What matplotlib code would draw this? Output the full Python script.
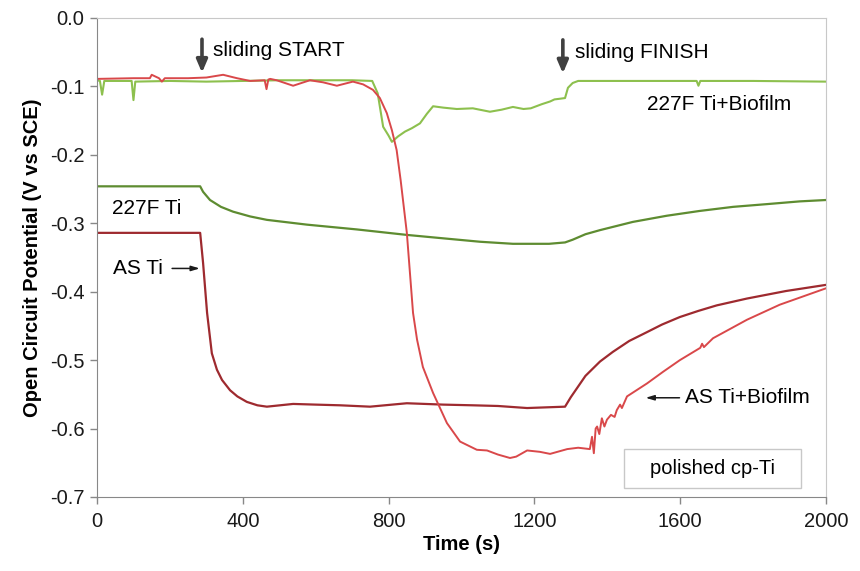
import matplotlib
matplotlib.use("Agg")
import matplotlib.pyplot as plt
from matplotlib.patches import Rectangle
from matplotlib.ticker import FormatStrFormatter

plt.rcParams['font.family'] = ['Liberation Sans', 'DejaVu Sans']
plt.rcParams['axes.unicode_minus'] = False

# 227F Ti+Biofilm (light green)
t_f_bio = [0, 8, 14, 20, 95, 100, 105, 200, 300, 400, 500, 600, 700, 755, 770,
           785, 800, 809, 826, 845, 864, 886, 905, 922, 950, 987, 1031, 1078,
           1110, 1141, 1170, 1190, 1220, 1243, 1255, 1270, 1284, 1292, 1305,
           1320, 1500, 1645, 1650, 1655, 1800, 2000]
v_f_bio = [-0.091, -0.092, -0.112, -0.092, -0.092, -0.120, -0.093, -0.092,
           -0.093, -0.092, -0.091, -0.091, -0.091, -0.092, -0.110, -0.159,
           -0.172, -0.181, -0.173, -0.166, -0.161, -0.154, -0.140, -0.129,
           -0.131, -0.133, -0.132, -0.137, -0.134, -0.130, -0.133, -0.132,
           -0.126, -0.122, -0.119, -0.118, -0.117, -0.102, -0.095, -0.092,
           -0.092, -0.092, -0.099, -0.092, -0.092, -0.093]

# AS Ti+Biofilm (red)
t_as_bio = [0, 100, 145, 150, 170, 178, 186, 250, 300, 346, 384, 420, 460, 465,
            470, 475, 493, 538, 584, 620, 658, 702, 730, 757, 776, 795, 809,
            822, 833, 850, 867, 878, 894, 922, 960, 996, 1042, 1070, 1100, 1133,
            1150, 1180, 1215, 1243, 1290, 1320, 1352, 1358, 1363, 1368, 1372,
            1378, 1385, 1392, 1399, 1410, 1420, 1426, 1435, 1440, 1454, 1509,
            1553, 1599, 1655, 1660, 1665, 1690, 1783, 1873, 2000]
v_as_bio = [-0.089, -0.088, -0.088, -0.083, -0.088, -0.093, -0.088, -0.088,
            -0.087, -0.083, -0.088, -0.092, -0.091, -0.104, -0.090, -0.089,
            -0.091, -0.099, -0.091, -0.094, -0.099, -0.093, -0.097, -0.105,
            -0.117, -0.139, -0.164, -0.193, -0.237, -0.314, -0.431, -0.470,
            -0.510, -0.548, -0.592, -0.619, -0.631, -0.632, -0.638, -0.643,
            -0.641, -0.632, -0.634, -0.637, -0.630, -0.628, -0.630, -0.612,
            -0.636, -0.600, -0.597, -0.608, -0.585, -0.597, -0.587, -0.580,
            -0.583, -0.573, -0.565, -0.570, -0.553, -0.534, -0.517, -0.500,
            -0.482, -0.476, -0.481, -0.468, -0.441, -0.419, -0.395]

# AS Ti (dark red)
t_as = [0, 200, 283, 291, 302, 315, 329, 343, 365, 385, 411, 440, 466, 538,
        600, 667, 749, 850, 950, 1031, 1100, 1180, 1284, 1300, 1340, 1380,
        1415, 1460, 1509, 1550, 1599, 1650, 1700, 1783, 1890, 2000]
v_as = [-0.314, -0.314, -0.314, -0.358, -0.431, -0.490, -0.514, -0.529, -0.544,
        -0.553, -0.561, -0.566, -0.568, -0.564, -0.565, -0.566, -0.568, -0.563,
        -0.565, -0.566, -0.567, -0.570, -0.568, -0.554, -0.523, -0.502, -0.488,
        -0.472, -0.459, -0.448, -0.437, -0.428, -0.420, -0.410, -0.399, -0.390]

# 227F Ti (dark green)
t_f = [0, 200, 283, 291, 310, 340, 373, 420, 466, 576, 713, 850, 950, 1051,
       1141, 1240, 1284, 1305, 1340, 1380, 1425, 1470, 1563, 1653, 1745, 1838,
       1928, 2000]
v_f = [-0.246, -0.246, -0.246, -0.254, -0.266, -0.276, -0.283, -0.290, -0.295,
       -0.302, -0.309, -0.317, -0.322, -0.327, -0.330, -0.330, -0.328, -0.324,
       -0.316, -0.310, -0.304, -0.298, -0.289, -0.282, -0.276, -0.272, -0.268,
       -0.266]

fig = plt.figure(figsize=(8.6, 5.71), dpi=100)
ax = fig.add_axes([0.1128, 0.1296, 0.8477, 0.8389])

ax.plot(t_f, v_f, color='#5E8C31', lw=1.6)
ax.plot(t_as, v_as, color='#9E2A2F', lw=1.6)
ax.plot(t_f_bio, v_f_bio, color='#8DC04E', lw=1.5)
ax.plot(t_as_bio, v_as_bio, color='#D9484A', lw=1.4)

ax.set_xlim(0, 2000)
ax.set_ylim(-0.7, 0.0)
ax.set_xticks(range(0, 2001, 400))
ax.set_yticks([-0.7, -0.6, -0.5, -0.4, -0.3, -0.2, -0.1, 0.0])
ax.yaxis.set_major_formatter(FormatStrFormatter('%.1f'))
ax.tick_params(direction='out', length=5, width=1, color='#888888',
               labelsize=14.5, labelcolor='#1a1a1a', pad=4)
ax.tick_params(axis='x', pad=6)

for s in ['top', 'right']:
    ax.spines[s].set_color('#c8c8c8')
for s in ['left', 'bottom']:
    ax.spines[s].set_color('#888888')

ax.set_xlabel('Time (s)', fontsize=14.5, fontweight='bold', labelpad=3)
ax.set_ylabel('Open Circuit Potential (V vs SCE)', fontsize=14.5,
              fontweight='bold', labelpad=6)

# annotations
big_arrow = dict(arrowstyle='-|>,head_width=0.32,head_length=0.75', lw=2.6,
                 color='#404040', shrinkA=0, shrinkB=0)
ax.annotate('', xy=(288, -0.080), xytext=(288, -0.031), arrowprops=big_arrow)
ax.text(318, -0.047, 'sliding START', fontsize=15, va='center')
ax.annotate('', xy=(1278, -0.081), xytext=(1278, -0.032), arrowprops=big_arrow)
ax.text(1311, -0.051, 'sliding FINISH', fontsize=15, va='center')

ax.text(1509, -0.126, '227F Ti+Biofilm', fontsize=15, va='center')
ax.text(41, -0.278, '227F Ti', fontsize=15, va='center')
ax.text(44, -0.366, 'AS Ti', fontsize=15, va='center')

thin_arrow = dict(arrowstyle='-|>,head_width=0.15,head_length=0.5', lw=1.1,
                  color='#1a1a1a', shrinkA=0, shrinkB=0)
ax.annotate('', xy=(282, -0.366), xytext=(206, -0.366), arrowprops=thin_arrow)
ax.annotate('', xy=(1505, -0.555), xytext=(1598, -0.555), arrowprops=thin_arrow)
ax.text(1613, -0.555, 'AS Ti+Biofilm', fontsize=15, va='center')

ax.add_patch(Rectangle((0.723, 0.018), 0.243, 0.082, transform=ax.transAxes,
                       facecolor='white', edgecolor='#c8c8c8', lw=1, zorder=5))
ax.text(0.8445, 0.059, 'polished cp-Ti', transform=ax.transAxes, fontsize=14.5,
        ha='center', va='center', zorder=6)

fig.savefig('out.png', dpi=100)
